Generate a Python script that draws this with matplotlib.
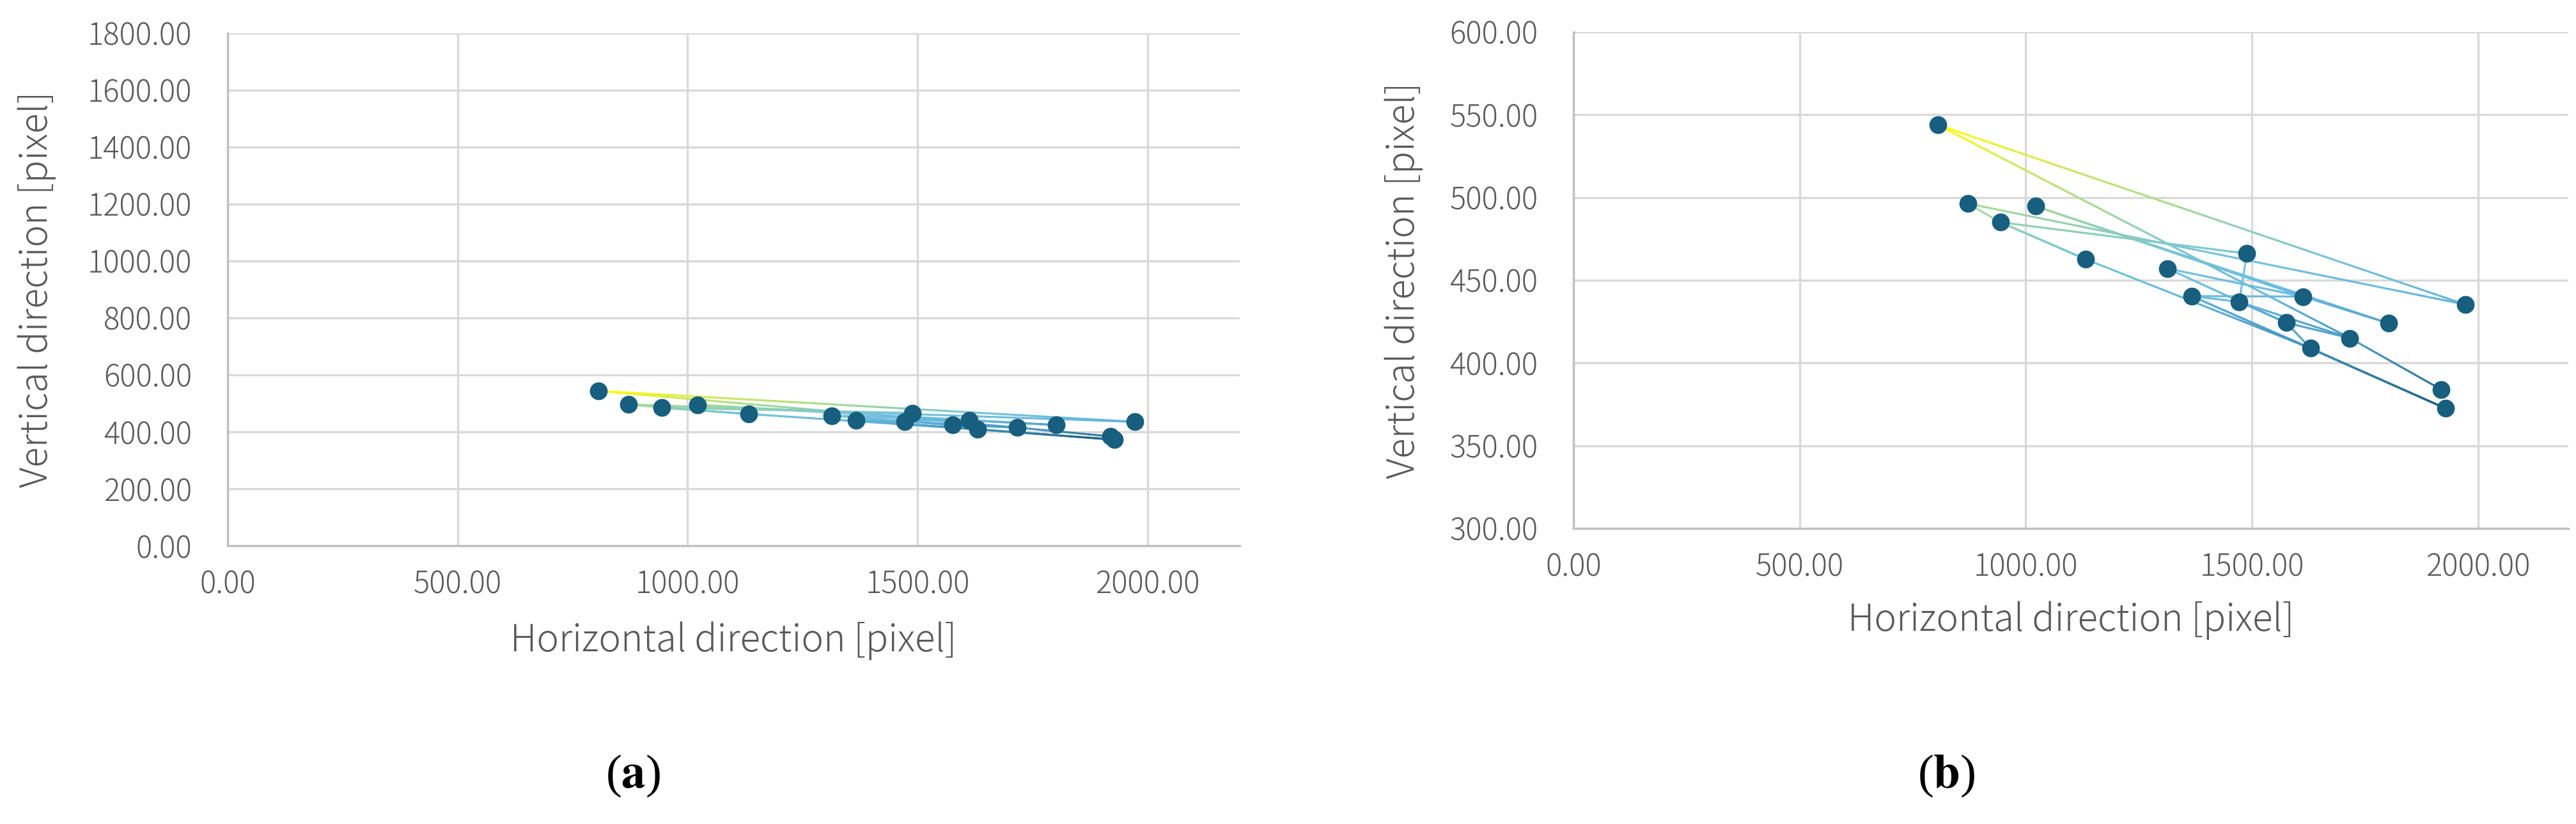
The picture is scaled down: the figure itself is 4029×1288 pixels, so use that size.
import numpy as np
import matplotlib
matplotlib.use("Agg")
import matplotlib.pyplot as plt
from matplotlib.collections import LineCollection
from matplotlib.colors import LinearSegmentedColormap, Normalize

# tracked positions (pixel coordinates)
x_px = [806, 872, 944, 1022, 1133, 1313, 1367, 1472, 1489, 1576, 1613, 1630, 1717, 1802, 1919, 1928, 1972]
y_px = [543.8, 496.3, 485.0, 494.7, 462.6, 457.1, 440.4, 436.9, 466.1, 424.3, 440.1, 408.9, 415.0, 424.0, 383.9, 372.6, 435.3]
# order in which the points are joined (1-based point numbers)
track = [5, 3, 9, 8, 7, 11, 4, 14, 11, 6, 10, 13, 1, 17, 2, 3, 5, 12, 16, 7, 12, 10, 8, 13, 15]

x_ticks = [0, 500, 1000, 1500, 2000]
yticks_a = [0, 200, 400, 600, 800, 1000, 1200, 1400, 1600, 1800]
yticks_b = [300, 350, 400, 450, 500, 550, 600]

plt.rcParams['font.family'] = ['Noto Sans CJK JP', 'DejaVu Sans']
plt.rcParams['font.weight'] = 'light'
plt.rcParams['mathtext.fontset'] = 'stix'

txt_col = '#595959'
dot_col = '#175E7F'
grad = LinearSegmentedColormap.from_list('trk', [
    (0.0, '#1B5D80'), (0.2, '#3F8FB8'), (0.4, '#66B8DF'),
    (0.55, '#78C4D8'), (0.72, '#A6DA92'), (0.86, '#CFE85A'), (1.0, '#FFFF00')])


def draw_panel(ax, yticks):
    xs = np.array(x_px)
    ys = np.array(y_px)
    norm = Normalize(ys.min(), ys.max())
    segs, cols = [], []
    for a, b in zip(track[:-1], track[1:]):
        t = np.linspace(0, 1, 41)
        sx = xs[a - 1] + (xs[b - 1] - xs[a - 1]) * t
        sy = ys[a - 1] + (ys[b - 1] - ys[a - 1]) * t
        for i in range(len(t) - 1):
            segs.append([(sx[i], sy[i]), (sx[i + 1], sy[i + 1])])
            cols.append(grad(norm((sy[i] + sy[i + 1]) / 2)))
    ax.add_collection(LineCollection(segs, colors=cols, linewidths=2.3, zorder=2))
    ax.plot(xs, ys, 'o', ms=19, color=dot_col, zorder=3)

    ax.set_xlim(0, 2200)
    ax.set_ylim(yticks[0], yticks[-1])
    ax.set_xticks(x_ticks)
    ax.set_yticks(yticks)
    ax.set_xticklabels(['%.2f' % v for v in x_ticks])
    ax.set_yticklabels(['%.2f' % v for v in yticks])
    ax.grid(True, color='#D9D9D9', lw=2.4)
    ax.set_axisbelow(True)
    for s in ['top', 'right']:
        ax.spines[s].set_visible(False)
    for s in ['left', 'bottom']:
        ax.spines[s].set_color('#BFBFBF')
        ax.spines[s].set_linewidth(2.4)
    ax.tick_params(axis='both', length=0, labelsize=34, colors=txt_col)
    ax.tick_params(axis='y', pad=40)
    ax.tick_params(axis='x', pad=26)


fig = plt.figure(figsize=(40.30, 12.88), dpi=100)
ax1 = fig.add_axes([0.0883, 0.3377, 0.3928, 0.622])
ax2 = fig.add_axes([0.6107, 0.3587, 0.3861, 0.6025])
draw_panel(ax1, yticks_a)
draw_panel(ax2, yticks_b)

lab_kw = dict(fontsize=42, color=txt_col, ha='center', va='center')
fig.text(0.0144, 0.6487, 'Vertical direction [pixel]', rotation=90, **lab_kw)
fig.text(0.2846, 0.222, 'Horizontal direction [pixel]', **lab_kw)
fig.text(0.5449, 0.660, 'Vertical direction [pixel]', rotation=90, **lab_kw)
fig.text(0.8037, 0.247, 'Horizontal direction [pixel]', **lab_kw)

cap_kw = dict(fontsize=54, color='black', ha='center', va='center',
              family='Liberation Serif', weight='normal')
fig.text(0.2457, 0.058, r'($\mathbf{a}$)', **cap_kw)
fig.text(0.7553, 0.058, r'($\mathbf{b}$)', **cap_kw)

fig.savefig('out.png', dpi=100)
